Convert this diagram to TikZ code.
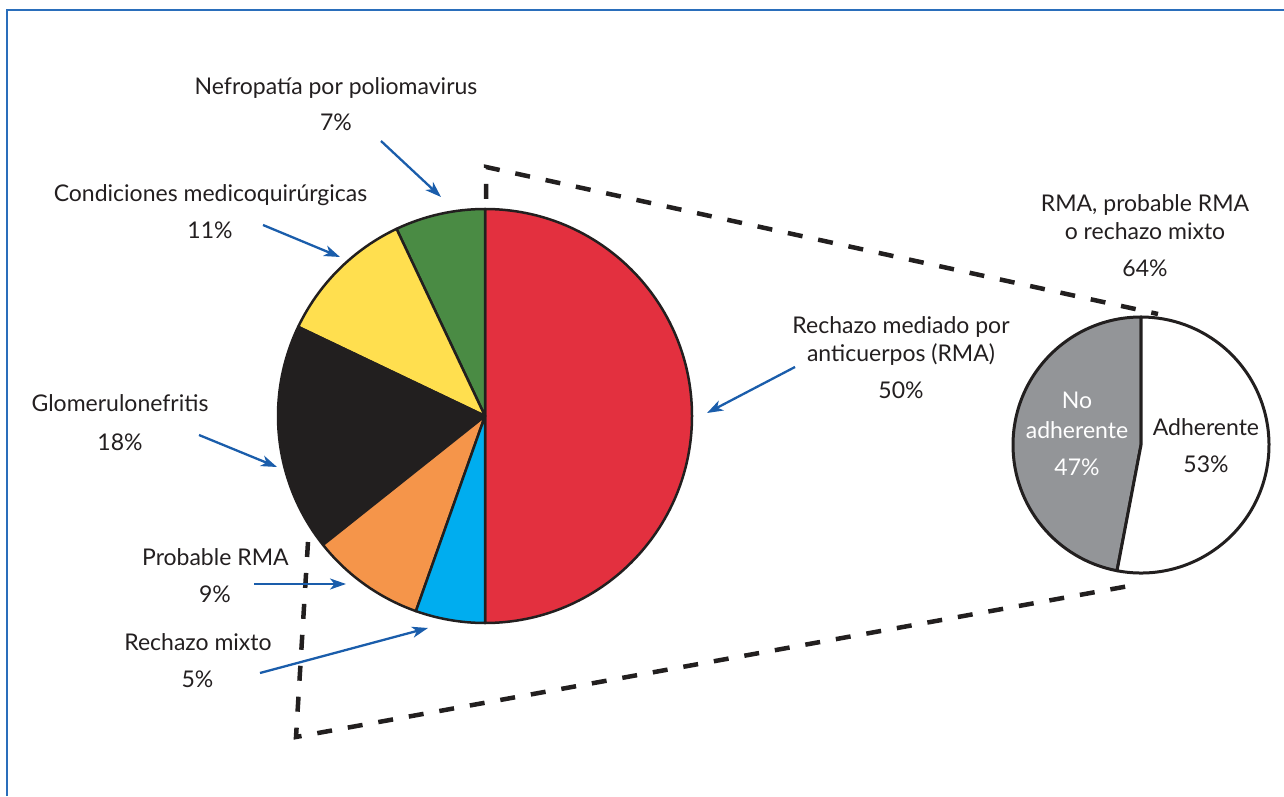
\documentclass[tikz,border=0pt]{standalone}
\usepackage{fontspec}
\setmainfont{Lato}
\usetikzlibrary{arrows.meta}
\definecolor{cred}{HTML}{E3303F}
\definecolor{cgreen}{HTML}{4A8B44}
\definecolor{cyellow}{HTML}{FFDF4F}
\definecolor{cblack}{HTML}{221F1F}
\definecolor{corange}{HTML}{F5954A}
\definecolor{ccyan}{HTML}{00ADEF}
\definecolor{cgrey}{HTML}{939598}
\definecolor{carrow}{HTML}{1A5DAB}
\definecolor{cframe}{HTML}{2A6EBB}
\definecolor{ctext}{HTML}{231F20}
\begin{document}
\begin{tikzpicture}[x=1pt,y=1pt,
  lbl/.style={font=\fontsize{23}{27}\selectfont, text=ctext, anchor=base, inner sep=0pt},
  wlbl/.style={lbl, text=white},
  arr/.style={draw=carrow, line width=2.3pt, -{Stealth[length=16pt,width=11pt,inset=4.5pt]}},
  dsh/.style={draw=cblack, line width=4.5pt, dash pattern=on 15pt off 16pt},
  slice/.style={draw=cblack, line width=2.5pt, line join=round},
  sslice/.style={draw=cblack, line width=3pt, line join=round}]
\useasboundingbox (0,0) rectangle (1284,796);
% frame
\draw[cframe, line width=2pt] (7,0) -- (7,786) -- (1284,786);
% dashed zoom lines
\coordinate (dt1) at (486,597);
\coordinate (dt2) at (486,629);
\coordinate (dt3) at (1158,482);
\coordinate (db1) at (308,254);
\coordinate (db2) at (296,59);
\coordinate (db3) at (1140,212);
\draw[dsh] (dt1) -- (dt2) -- (dt3);
\draw[dsh] (db1) -- (db2) -- (db3);
% main pie
\coordinate (mc) at (485,380);
\filldraw[slice, fill=cred] (mc) -- ++(-90:207) arc[start angle=-90, end angle=90, radius=207] -- cycle;
\filldraw[slice, fill=cgreen] (mc) -- ++(90:207) arc[start angle=90, end angle=115.3, radius=207] -- cycle;
\filldraw[slice, fill=cyellow] (mc) -- ++(115.3:207) arc[start angle=115.3, end angle=154.5, radius=207] -- cycle;
\filldraw[slice, fill=cblack] (mc) -- ++(154.5:207) arc[start angle=154.5, end angle=218.5, radius=207] -- cycle;
\filldraw[slice, fill=corange] (mc) -- ++(218.5:207) arc[start angle=218.5, end angle=250.5, radius=207] -- cycle;
\filldraw[slice, fill=ccyan] (mc) -- ++(250.5:207) arc[start angle=250.5, end angle=270, radius=207] -- cycle;
% small pie
\coordinate (sc) at (1141,351);
\filldraw[sslice, fill=cgrey] (sc) -- ++(90:128) arc[start angle=90, end angle=259.2, radius=128] -- cycle;
\filldraw[sslice, fill=white] (sc) -- ++(259.2:128) arc[start angle=259.2, end angle=450, radius=128] -- cycle;
% arrows
\coordinate (a1s) at (381,655); \coordinate (a1e) at (441,599);
\coordinate (a2s) at (263,571); \coordinate (a2e) at (340,539);
\coordinate (a3s) at (199,361); \coordinate (a3e) at (277,329);
\coordinate (a4s) at (254,212); \coordinate (a4e) at (346,212);
\coordinate (a5s) at (260,123); \coordinate (a5e) at (428,168);
\coordinate (a6s) at (795,429); \coordinate (a6e) at (707,383);
\draw[arr] (a1s) -- (a1e);
\draw[arr] (a2s) -- (a2e);
\draw[arr] (a3s) -- (a3e);
\draw[arr] (a4s) -- (a4e);
\draw[arr] (a5s) -- (a5e);
\draw[arr] (a6s) -- (a6e);
% labels
\node[lbl] (t1a) at (336,701.7) {Nefropatía por poliomavirus};
\node[lbl] (t1b) at (336,665.3) {7\%};
\node[lbl] (t2a) at (210.5,594.3) {Condiciones medicoquirúrgicas};
\node[lbl] (t2b) at (210,557) {11\%};
\node[lbl] (t3a) at (120,384.3) {Glomerulonefritis};
\node[lbl] (t3b) at (120,345.3) {18\%};
\node[lbl] (t4a) at (215.4,231) {Probable RMA};
\node[lbl] (t4b) at (215,193.3) {9\%};
\node[lbl] (t5a) at (198,146) {Rechazo mixto};
\node[lbl] (t5b) at (197.5,108.7) {5\%};
\node[lbl] (t6a) at (901,462) {Rechazo mediado por};
\node[lbl] (t6b) at (901,434.3) {anticuerpos (RMA)};
\node[lbl] (t6c) at (901,397) {50\%};
\node[lbl] (t7a) at (1145,584.3) {RMA, probable RMA};
\node[lbl] (t7b) at (1145,556) {o rechazo mixto};
\node[lbl] (t7c) at (1145,519.3) {64\%};
\node[wlbl] (t8a) at (1077,387) {No};
\node[wlbl] (t8b) at (1077,358) {adherente};
\node[wlbl] (t8c) at (1077,321) {47\%};
\node[lbl] (t9a) at (1206,360) {Adherente};
\node[lbl] (t9b) at (1206,323.3) {53\%};
\end{tikzpicture}
\end{document}
